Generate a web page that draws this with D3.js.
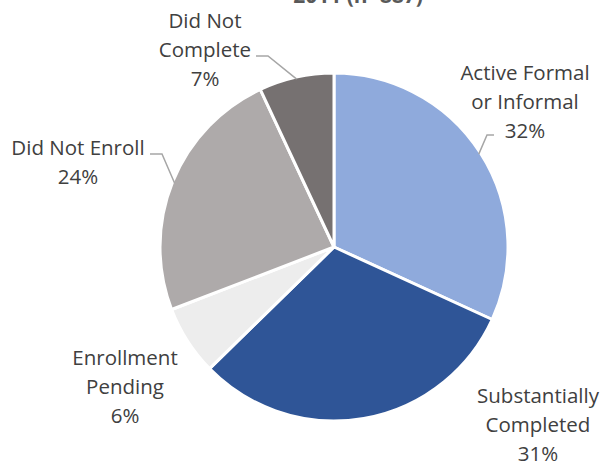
<!DOCTYPE html>
<html>
<head>
<meta charset="utf-8">
<script src="https://cdn.jsdelivr.net/npm/d3@7"></script>
<style>
  body { margin: 0; background: #fff; }
  text { font-family: "Open Sans", Lato, sans-serif; }
</style>
</head>
<body>
<svg id="chart" width="606" height="461"></svg>
<script>
// chart data
var categories = ['Active Formal or Informal', 'Substantially Completed', 'Enrollment Pending', 'Did Not Enroll', 'Did Not Complete'];
var values = [32, 31, 6.5, 24, 7];
var pctLabels = ['32%', '31%', '6%', '24%', '7%'];
var labelLines = [['Active Formal', 'or Informal'], ['Substantially', 'Completed'], ['Enrollment', 'Pending'], ['Did Not Enroll'], ['Did Not', 'Complete']];
var colors = ['#8faadc', '#2f5597', '#ededed', '#aeaaaa', '#767171'];

// label layout (x center, y of first baseline, leader line start)
var labelPos = [
    { x: 525, y: 80, leader: [494, 135, 487] },
    { x: 538, y: 403, leader: null },
    { x: 125, y: 365, leader: null },
    { x: 78, y: 155, leader: [150, 154, 162] },
    { x: 205, y: 28, leader: [256, 56, 268] }
];

var svg = d3.select('#chart');
var cx = 334, cy = 247, r = 174, lineH = 29;

// title, mostly cropped off the top
svg.append('text')
    .attr('x', 358).attr('y', 3)
    .attr('text-anchor', 'middle')
    .style('font-size', '21px').style('font-weight', 'bold')
    .style('fill', '#595959')
    .text('2011 (n=887)');

var pie = d3.pie().sort(null).value(function (d) { return d; });
var arcs = pie(values);
var arc = d3.arc().innerRadius(0).outerRadius(r);
var edge = d3.arc().innerRadius(r - 2).outerRadius(r - 2);

var g = svg.append('g').attr('transform', 'translate(' + cx + ',' + cy + ')');

g.selectAll('path.slice').data(arcs).enter().append('path')
    .attr('class', 'slice')
    .attr('d', arc)
    .attr('fill', function (d, i) { return colors[i]; })
    .attr('stroke', '#fff')
    .attr('stroke-width', 3)
    .attr('stroke-linejoin', 'round');

// leader lines
arcs.forEach(function (d, i) {
    var p = labelPos[i].leader;
    if (!p) return;
    var e = edge.centroid(d);
    svg.append('polyline')
        .attr('points', [[p[0], p[1]], [p[2], p[1]], [cx + e[0], cy + e[1]]].map(function (q) { return q.join(','); }).join(' '))
        .attr('fill', 'none')
        .attr('stroke', '#a6a6a6')
        .attr('stroke-width', 1.5);
});

// labels
categories.forEach(function (c, i) {
    var lines = labelLines[i].concat([pctLabels[i]]);
    var t = svg.append('text')
        .attr('text-anchor', 'middle')
        .style('font-size', '20.5px')
        .style('fill', '#404040');
    lines.forEach(function (s, k) {
        t.append('tspan')
            .attr('x', labelPos[i].x)
            .attr('y', labelPos[i].y + k * lineH)
            .text(s);
    });
});
</script>
</body>
</html>
